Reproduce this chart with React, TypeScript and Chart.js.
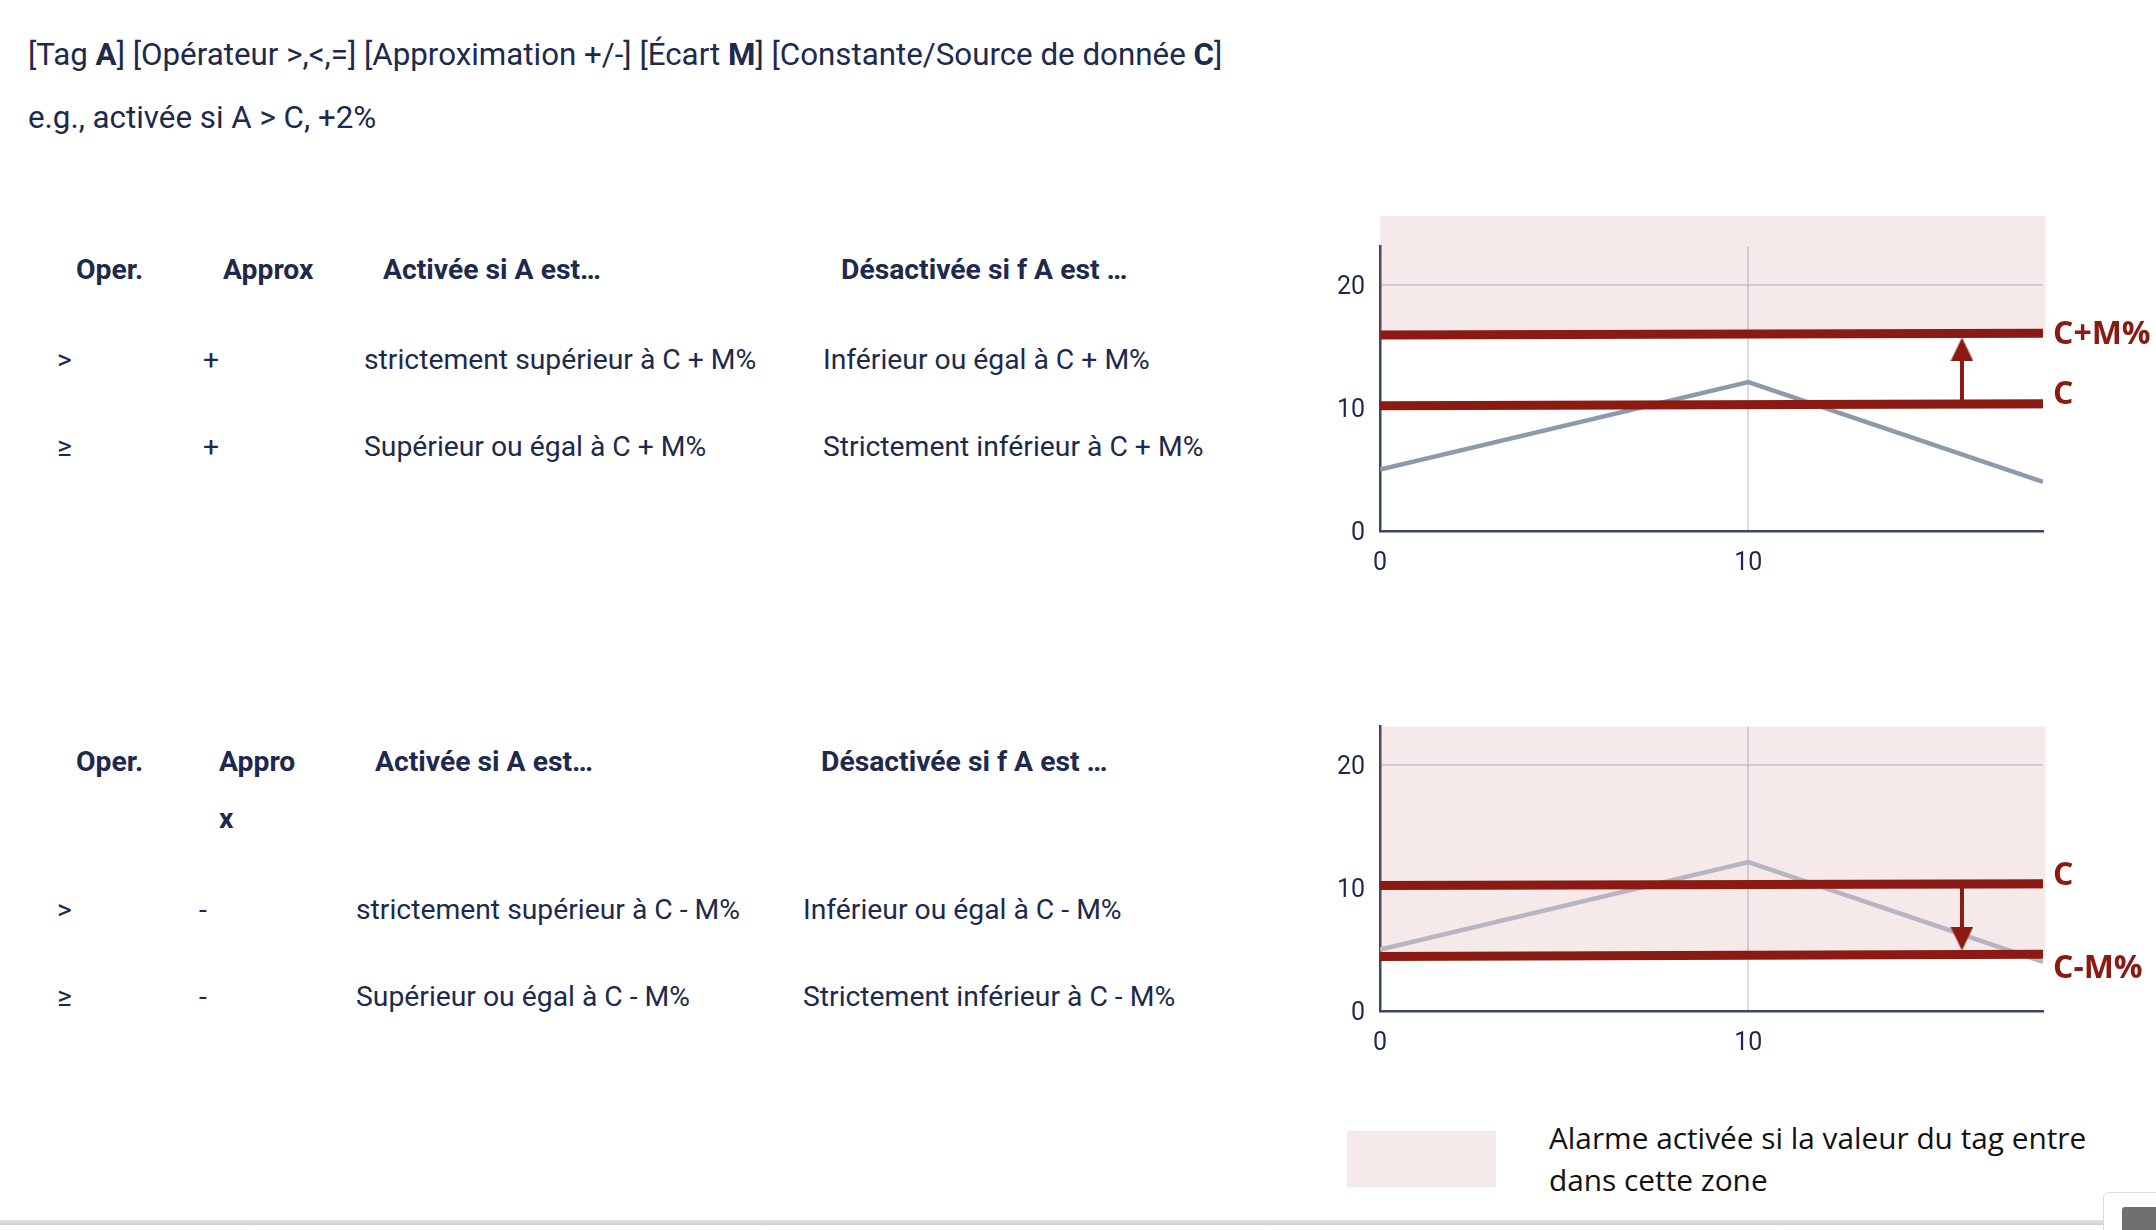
import React, { useEffect, useRef } from "react";
import { Chart, registerables } from "chart.js";

Chart.register(...registerables);

// ---------------- data ----------------
const X_TICKS = [0, 10];
const Y_TICKS = [0, 10, 20];
const X_MAX = 18;
const Y_MAX = 23.1;

const TAG_X = [0, 10, 18];
const TAG_Y_UP = [5.0, 12.1, 4.0];
const TAG_Y_DOWN = [5.0, 12.1, 4.0];

const LINE_X = [0, 18];
const C_UP = [10.18, 10.33];
const C_PLUS_M = [15.93, 16.07];
const C_DOWN = [10.19, 10.34];
const C_MINUS_M = [4.43, 4.62];

const ARROW_X = [15.8, 15.8];
const ARROW_UP_Y = [10.3, 14.75];
const ARROW_DOWN_Y = [10.3, 5.89];

const ZONE_X = [0, 18.07];
const ZONE_UP_Y = [16.0, 25.6];
const ZONE_DOWN_Y = [4.5, 23.1];

const LABELS_UP = ["C+M%", "C"];
const LABELS_DOWN = ["C", "C-M%"];

const TITLE_PARTS: [string, boolean][] = [
  ["[Tag ", false], ["A", true], ["] [Opérateur >,<,=] [Approximation +/-] [Écart ", false],
  ["M", true], ["] [Constante/Source de donnée ", false], ["C", true], ["]", false],
];
const SUBTITLE = "e.g., activée si A > C, +2%";

const HEAD_1 = ["Oper.", "Approx", "Activée si A est…", "Désactivée si f A est …"];
const ROWS_1 = [
  [">", "+", "strictement supérieur à C + M%", "Inférieur ou égal à C + M%"],
  ["≥", "+", "Supérieur ou égal à C + M%", "Strictement inférieur à C + M%"],
];
const HEAD_2 = ["Oper.", "Appro", "Activée si A est…", "Désactivée si f A est …"];
const HEAD_2_WRAP = "x";
const ROWS_2 = [
  [">", "-", "strictement supérieur à C - M%", "Inférieur ou égal à C - M%"],
  ["≥", "-", "Supérieur ou égal à C - M%", "Strictement inférieur à C - M%"],
];
const LEGEND_TEXT = ["Alarme activée si la valeur du tag entre", "dans cette zone"];

// ---------------- styles ----------------
const NAVY = "#1d2a4d";
const RED = "#8b1b12";
const PINK = "rgba(190,110,115,0.15)";
const GRID = "rgba(175,170,190,0.45)";
const AXIS = "#3b4862";
const FONT = "Roboto, 'Noto Sans', sans-serif";

const pts = (xs: number[], ys: number[]) => xs.map((x, i) => ({ x, y: ys[i] }));

function arrowHead(): HTMLCanvasElement {
  const c = document.createElement("canvas");
  c.width = 23;
  c.height = 24;
  const g = c.getContext("2d") as CanvasRenderingContext2D;
  g.fillStyle = RED;
  g.beginPath();
  g.moveTo(11.5, 0);
  g.lineTo(23, 24);
  g.lineTo(0, 24);
  g.closePath();
  g.fill();
  return c;
}

const zonePlugin = {
  id: "zone",
  beforeDatasetsDraw(chart: any, _args: any, opts: any) {
    const { ctx, scales } = chart;
    const x0 = scales.x.getPixelForValue(opts.xr[0]);
    const x1 = scales.x.getPixelForValue(opts.xr[1]);
    const y0 = scales.y.getPixelForValue(opts.yr[0]);
    const y1 = scales.y.getPixelForValue(opts.yr[1]);
    ctx.save();
    ctx.fillStyle = opts.color;
    ctx.fillRect(x0, y1, x1 - x0, y0 - y1);
    ctx.restore();
  },
  afterDatasetsDraw(chart: any, _args: any, opts: any) {
    const { ctx, scales, chartArea } = chart;
    ctx.save();
    ctx.fillStyle = opts.labelColor;
    ctx.font = opts.labelFont;
    ctx.textBaseline = "alphabetic";
    ctx.textAlign = "left";
    opts.labels.forEach((l: any) => {
      ctx.fillText(l.text, chartArea.right + 10, scales.y.getPixelForValue(l.value) + l.dy);
    });
    ctx.restore();
  },
};

type Spec = {
  tagY: number[];
  tagColor: string;
  lowLine: number[];
  highLine: number[];
  arrowY: number[];
  arrowRot: number;
  zoneY: number[];
  labels: { text: string; value: number; dy: number }[];
};

function ThresholdChart({ spec, top }: { spec: Spec; top: number }) {
  const ref = useRef<HTMLCanvasElement>(null);
  useEffect(() => {
    const tickFont = { family: FONT, size: 25 };
    const head = arrowHead();
    const chart = new Chart(ref.current as HTMLCanvasElement, {
      type: "line",
      data: {
        datasets: [
          {
            data: pts(TAG_X, spec.tagY),
            borderColor: spec.tagColor,
            borderWidth: 4.5,
            pointRadius: 0,
            tension: 0,
            order: 3,
          },
          {
            data: pts(LINE_X, spec.lowLine),
            borderColor: RED,
            borderWidth: 9,
            borderCapStyle: "butt",
            pointRadius: 0,
            order: 2,
          },
          {
            data: pts(LINE_X, spec.highLine),
            borderColor: RED,
            borderWidth: 9,
            borderCapStyle: "butt",
            pointRadius: 0,
            order: 2,
          },
          {
            data: pts(ARROW_X, spec.arrowY),
            borderColor: RED,
            borderWidth: 4,
            borderCapStyle: "butt",
            pointRadius: [0, 12],
            pointStyle: ["circle", head],
            pointRotation: spec.arrowRot,
            pointBackgroundColor: RED,
            pointBorderColor: RED,
            pointBorderWidth: 0,
            order: 1,
          },
        ] as any,
      },
      options: {
        animation: false,
        responsive: false,
        events: [],
        layout: { padding: { left: 20, top: 46.7, right: 113, bottom: 19 } },
        plugins: {
          legend: { display: false },
          tooltip: { enabled: false },
          zone: {
            xr: ZONE_X,
            yr: spec.zoneY,
            color: PINK,
            labels: spec.labels,
            labelColor: RED,
            labelFont: "bold 32px 'Open Sans'",
          },
        } as any,
        scales: {
          x: {
            type: "linear",
            min: 0,
            max: X_MAX,
            afterBuildTicks: (s: any) => {
              s.ticks = X_TICKS.map((v) => ({ value: v }));
            },
            afterFit: (s: any) => {
              s.height = 50;
            },
            grid: {
              color: (c: any) => (c.tick && c.tick.value === 10 ? GRID : "rgba(0,0,0,0)"),
              lineWidth: 2,
              drawTicks: false,
            },
            border: { color: AXIS, width: 2.5 },
            ticks: { padding: 18, font: tickFont, color: NAVY, maxRotation: 0 },
          },
          y: {
            type: "linear",
            min: 0,
            max: Y_MAX,
            afterBuildTicks: (s: any) => {
              s.ticks = Y_TICKS.map((v) => ({ value: v }));
            },
            afterFit: (s: any) => {
              s.width = 60;
            },
            grid: {
              color: (c: any) => (c.tick && c.tick.value > 0 ? GRID : "rgba(0,0,0,0)"),
              lineWidth: 2,
              drawTicks: false,
            },
            border: { color: AXIS, width: 2.5 },
            ticks: { padding: 15, labelOffset: 3, font: tickFont, color: NAVY },
          },
        },
      } as any,
      plugins: [zonePlugin],
    });
    return () => chart.destroy();
  }, [spec]);
  return (
    <canvas
      ref={ref}
      width={856}
      height={400}
      style={{ position: "absolute", left: 1300, top, width: 856, height: 400 }}
    />
  );
}

const SPEC_UP: Spec = {
  tagY: TAG_Y_UP,
  tagColor: "#8c9bac",
  lowLine: C_UP,
  highLine: C_PLUS_M,
  arrowY: ARROW_UP_Y,
  arrowRot: 0,
  zoneY: ZONE_UP_Y,
  labels: [
    { text: LABELS_UP[0], value: C_PLUS_M[1], dy: 11 },
    { text: LABELS_UP[1], value: C_UP[1], dy: 0 },
  ],
};

const SPEC_DOWN: Spec = {
  tagY: TAG_Y_DOWN,
  tagColor: "#b8b4c1",
  lowLine: C_MINUS_M,
  highLine: C_DOWN,
  arrowY: ARROW_DOWN_Y,
  arrowRot: 180,
  zoneY: ZONE_DOWN_Y,
  labels: [
    { text: LABELS_DOWN[0], value: C_DOWN[1], dy: 1 },
    { text: LABELS_DOWN[1], value: C_MINUS_M[1], dy: 24 },
  ],
};

function T({ x, b, bold, size, children }: { x: number; b: number; bold?: boolean; size: number; children: any }) {
  return (
    <div
      style={{
        position: "absolute",
        left: x,
        top: b - 0.8415 * size,
        fontFamily: FONT,
        fontSize: size,
        lineHeight: 1,
        fontWeight: bold ? 700 : 400,
        color: NAVY,
        whiteSpace: "nowrap",
      }}
    >
      {children}
    </div>
  );
}

const TITLE_SIZE = 31.3;
const TABLE_SIZE = 28.3;
const T1_HEAD_X = [76, 223, 383, 841];
const T1_ROW_X = [57, 203, 364, 823];
const T2_HEAD_X = [76, 219, 375, 821];
const T2_ROW_X = [57, 199, 356, 803];

export default function App() {
  return (
    <div
      style={{
        position: "absolute",
        left: 0,
        top: 0,
        width: 2156,
        height: 1230,
        overflow: "hidden",
        background: "#fff",
      }}
    >
      <T x={28} b={65} size={TITLE_SIZE}>
        {TITLE_PARTS.map(([t, bold], i) =>
          bold ? <b key={i}>{t}</b> : <span key={i}>{t}</span>
        )}
      </T>
      <T x={28} b={128} size={TITLE_SIZE}>{SUBTITLE}</T>

      {HEAD_1.map((h, i) => (
        <T key={"h1" + i} x={T1_HEAD_X[i]} b={280} size={TABLE_SIZE} bold>{h}</T>
      ))}
      {ROWS_1.map((r, ri) =>
        r.map((c, ci) => (
          <T key={"r1" + ri + ci} x={T1_ROW_X[ci]} b={[370, 457][ri]} size={TABLE_SIZE}>{c}</T>
        ))
      )}

      {HEAD_2.map((h, i) => (
        <T key={"h2" + i} x={T2_HEAD_X[i]} b={772} size={TABLE_SIZE} bold>{h}</T>
      ))}
      <T x={T2_HEAD_X[1]} b={829} size={TABLE_SIZE} bold>{HEAD_2_WRAP}</T>
      {ROWS_2.map((r, ri) =>
        r.map((c, ci) => (
          <T key={"r2" + ri + ci} x={T2_ROW_X[ci]} b={[920, 1007][ri]} size={TABLE_SIZE}>{c}</T>
        ))
      )}

      <ThresholdChart spec={SPEC_UP} top={200} />
      <ThresholdChart spec={SPEC_DOWN} top={680} />

      <div
        style={{
          position: "absolute",
          left: 1347,
          top: 1131,
          width: 149,
          height: 56,
          background: "#f5e9ea",
        }}
      />
      <div
        style={{
          position: "absolute",
          left: 1549,
          top: 1117,
          fontFamily: "'Open Sans', sans-serif",
          fontSize: 29.8,
          lineHeight: "41.7px",
          color: "#111",
          whiteSpace: "nowrap",
        }}
      >
        {LEGEND_TEXT.map((l, i) => (
          <div key={i}>{l}</div>
        ))}
      </div>

      <div
        style={{
          position: "absolute",
          left: 0,
          top: 1220,
          width: 2156,
          height: 5,
          background: "linear-gradient(#e4e4e4,#cfcfcf)",
        }}
      />
      <div
        style={{
          position: "absolute",
          left: 2103,
          top: 1192,
          width: 70,
          height: 50,
          background: "#fff",
          border: "1px solid #dcdcdc",
          borderRadius: 6,
        }}
      />
      <div
        style={{
          position: "absolute",
          left: 2122,
          top: 1207,
          width: 40,
          height: 30,
          background: "#707070",
          borderRadius: 3,
        }}
      />
    </div>
  );
}
